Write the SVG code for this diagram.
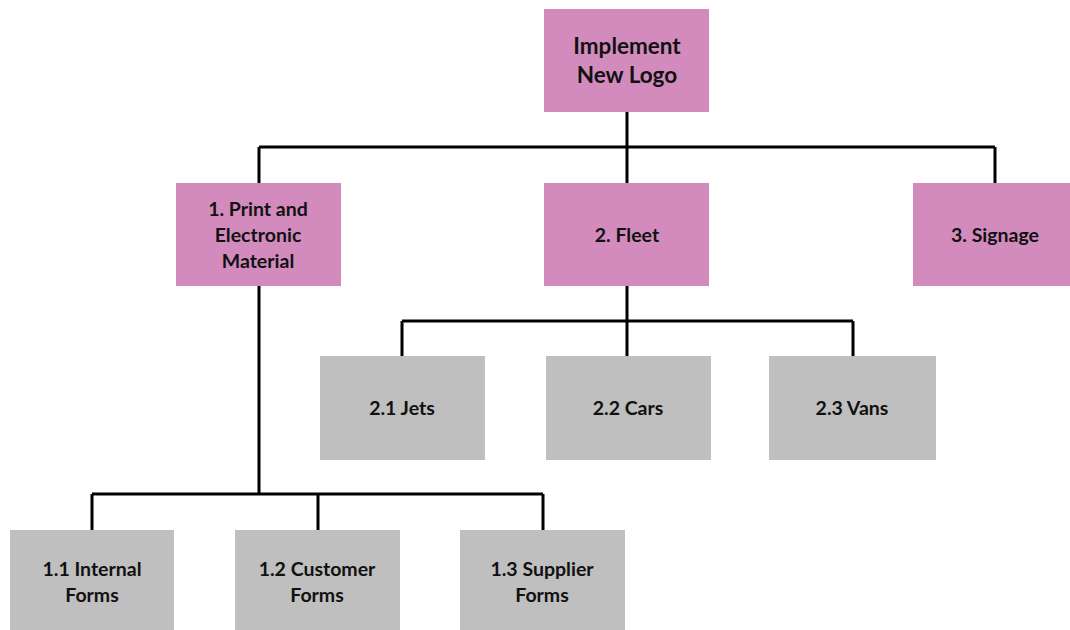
<svg xmlns="http://www.w3.org/2000/svg" width="1070" height="630" viewBox="0 0 1070 630">
<style>
.p{fill:#D38BBE}
.g{fill:#BFBFBF}
.t{font-family:Lato,"Liberation Sans",sans-serif;font-weight:bold;fill:#111;text-anchor:middle}
.t1{font-size:22.5px}
.t2{font-size:19.5px}
.c{fill:none;stroke:#000;stroke-width:3}
</style>
<rect width="1070" height="630" fill="#fff"/>
<g id="connectors">
<path class="c" d="M627 112V147M259 147H995M259 147V183M627 147V183M995 147V183"/>
<path class="c" d="M627 286V321M402 321H853M402 321V356M627 321V356M853 321V356"/>
<path class="c" d="M259 286V494M92 494H543M92 494V530M318 494V530M543 494V530"/>
</g>
<g id="root"><rect class="p" x="544" y="9" width="165" height="103"/><text class="t t1" x="627" y="54">Implement</text><text class="t t1" x="627" y="83">New Logo</text></g>
<g id="n1"><rect class="p" x="176" y="183" width="165" height="103"/><text class="t t2" x="258" y="216">1. Print and</text><text class="t t2" x="258" y="242">Electronic</text><text class="t t2" x="258" y="268">Material</text></g>
<g id="n2"><rect class="p" x="544" y="183" width="165" height="103"/><text class="t t2" x="627" y="242">2. Fleet</text></g>
<g id="n3"><rect class="p" x="913" y="183" width="157" height="103"/><text class="t t2" x="995" y="242">3. Signage</text></g>
<g id="n21"><rect class="g" x="320" y="356" width="165" height="104"/><text class="t t2" x="402" y="415">2.1 Jets</text></g>
<g id="n22"><rect class="g" x="546" y="356" width="165" height="104"/><text class="t t2" x="628" y="415">2.2 Cars</text></g>
<g id="n23"><rect class="g" x="769" y="356" width="167" height="104"/><text class="t t2" x="852" y="415">2.3 Vans</text></g>
<g id="n11"><rect class="g" x="10" y="530" width="164" height="100"/><text class="t t2" x="92" y="576">1.1 Internal</text><text class="t t2" x="92" y="602">Forms</text></g>
<g id="n12"><rect class="g" x="235" y="530" width="165" height="100"/><text class="t t2" x="317" y="576">1.2 Customer</text><text class="t t2" x="317" y="602">Forms</text></g>
<g id="n13"><rect class="g" x="460" y="530" width="165" height="100"/><text class="t t2" x="542" y="576">1.3 Supplier</text><text class="t t2" x="542" y="602">Forms</text></g>
</svg>
